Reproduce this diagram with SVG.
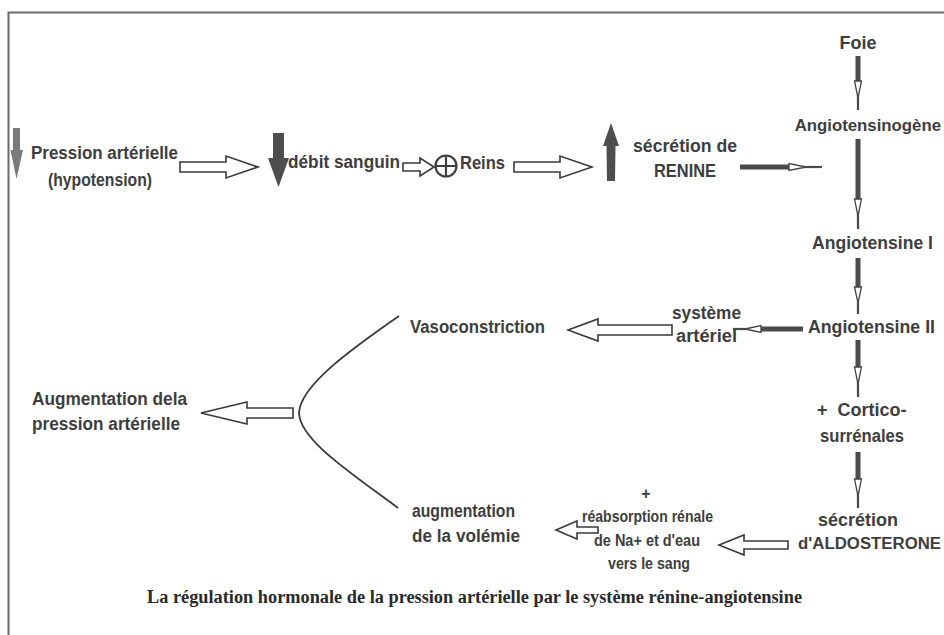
<svg xmlns="http://www.w3.org/2000/svg" width="944" height="635" viewBox="0 0 944 635">
  <style>
    .t { font-family: "Liberation Sans", Arial, sans-serif; font-weight: bold; font-size: 18px; fill: #3e3e3e; }
    .tn { font-family: "Liberation Sans", Arial, sans-serif; font-weight: bold; font-size: 16.8px; fill: #3e3e3e; }
    .ts { font-family: "Liberation Sans", Arial, sans-serif; font-weight: bold; font-size: 16px; fill: #3e3e3e; }
    .mid { text-anchor: middle; }
    .end { text-anchor: end; }
    .cap { font-family: "Liberation Serif", "Times New Roman", serif; font-weight: bold; font-size: 18px; fill: #2a2a2a; }
    .hollow { fill: #ffffff; stroke: #3a3a3a; stroke-width: 1.6; stroke-linejoin: miter; }
    .shaft { fill: #4a4a4a; }
    .tip { fill: #ffffff; stroke: #444444; stroke-width: 1.3; }
    .line { stroke: #4a4a4a; stroke-width: 2.2; fill: none; }
    .solid { fill: #4e4e4e; }
    .frame { stroke: #6a6a6a; stroke-width: 2; fill: none; }
  </style>

  <rect x="0" y="0" width="944" height="635" fill="#ffffff"/>
  <path class="frame" d="M 8.5,635 L 8.5,12.5 L 944,12.5"/>

  <!-- nodes -->
  <g id="pression">
    <path d="M 13,128 L 20,128 L 20,150 L 23,150 L 16.5,179 L 10.5,150 L 13,150 Z" fill="#7a7a7a"/>
    <text class="t" x="31" y="159" textLength="147" lengthAdjust="spacingAndGlyphs">Pression artérielle</text>
    <text class="t" x="48" y="186" textLength="104" lengthAdjust="spacingAndGlyphs">(hypotension)</text>
  </g>
  <g id="debit">
    <path class="solid" d="M 273,133 L 284,133 L 284,158 L 289,158 L 278.5,187 L 268,158 L 273,158 Z"/>
    <text class="t" x="288" y="168" textLength="112" lengthAdjust="spacingAndGlyphs">débit sanguin</text>
  </g>
  <g id="reins">
    <circle cx="446" cy="166" r="10.5" fill="none" stroke="#3e3e3e" stroke-width="2.2"/>
    <path d="M 435.5,166 L 456.5,166 M 446,155.5 L 446,176.5" stroke="#3e3e3e" stroke-width="2.2"/>
    <text class="t" x="460" y="169" textLength="45" lengthAdjust="spacingAndGlyphs">Reins</text>
  </g>
  <g id="renine">
    <path class="solid" d="M 611,123 L 619,146 L 615.5,146 L 615,181 L 607,181 L 606.5,146 L 603,146 Z"/>
    <text class="t" x="633" y="152" textLength="104" lengthAdjust="spacingAndGlyphs">sécrétion de</text>
    <text class="t" x="654" y="177" textLength="62" lengthAdjust="spacingAndGlyphs">RENINE</text>
  </g>
  <g id="foie">
    <text class="t mid" x="858" y="49">Foie</text>
  </g>
  <g id="angiotensinogene">
    <text class="tn end" x="941" y="131">Angiotensinogène</text>
  </g>
  <g id="angiotensine-1">
    <text class="t" x="812" y="249" textLength="121" lengthAdjust="spacingAndGlyphs">Angiotensine I</text>
  </g>
  <g id="angiotensine-2">
    <text class="t" x="808" y="333" textLength="127" lengthAdjust="spacingAndGlyphs">Angiotensine II</text>
  </g>
  <g id="systeme-arteriel">
    <text class="t" x="672" y="319" textLength="69" lengthAdjust="spacingAndGlyphs">système</text>
    <text class="t" x="676" y="342" textLength="61" lengthAdjust="spacingAndGlyphs">artériel</text>
  </g>
  <g id="vasoconstriction">
    <text class="t" x="410" y="333" textLength="135" lengthAdjust="spacingAndGlyphs">Vasoconstriction</text>
  </g>
  <g id="augmentation-pression">
    <text class="t" x="32" y="405" textLength="155" lengthAdjust="spacingAndGlyphs">Augmentation dela</text>
    <text class="t" x="32" y="430" textLength="148" lengthAdjust="spacingAndGlyphs">pression artérielle</text>
  </g>
  <g id="corticosurrenales">
    <text class="t" x="817" y="416">+ <tspan dx="5">Cortico-</tspan></text>
    <text class="t" x="820" y="442" textLength="84" lengthAdjust="spacingAndGlyphs">surrénales</text>
  </g>
  <g id="aldosterone">
    <text class="t mid" x="858" y="526">sécrétion</text>
    <text class="tn end" x="941" y="549">d'ALDOSTERONE</text>
  </g>
  <g id="reabsorption">
    <text class="ts mid" x="646" y="499">+</text>
    <text class="ts" x="582" y="522" textLength="131" lengthAdjust="spacingAndGlyphs">réabsorption rénale</text>
    <text class="ts" x="594" y="546" textLength="106" lengthAdjust="spacingAndGlyphs">de Na+ et d'eau</text>
    <text class="ts" x="608" y="569" textLength="82" lengthAdjust="spacingAndGlyphs">vers le sang</text>
  </g>
  <g id="volemie">
    <text class="t" x="412" y="517" textLength="103" lengthAdjust="spacingAndGlyphs">augmentation</text>
    <text class="t" x="412" y="542" textLength="108" lengthAdjust="spacingAndGlyphs">de la volémie</text>
  </g>

  <!-- connectors -->
  <g id="connectors">
    <!-- open block arrows -->
    <path class="hollow" d="M 180,162 L 226,162 L 226,156 L 258,167 L 226,178 L 226,172 L 180,172 Z"/>
    <path class="hollow" d="M 403,163 L 420,163 L 420,158 L 434,167 L 420,176 L 420,171 L 403,171 Z"/>
    <path class="hollow" d="M 514,162 L 560,162 L 560,156 L 592,167 L 560,178 L 560,172 L 514,172 Z"/>
    <path class="hollow" d="M 672,325 L 598,325 L 598,319 L 568,330 L 598,341 L 598,335 L 672,335 Z"/>
    <path class="hollow" d="M 293,408 L 247,408 L 247,402 L 201,413 L 247,424 L 247,418 L 293,418 Z"/>
    <path class="hollow" d="M 788,541 L 744,541 L 744,535 L 719,545 L 744,555 L 744,549 L 788,549 Z"/>
    <path class="hollow" d="M 598,527 L 577,527 L 577,521 L 556,530 L 577,539 L 577,533 L 598,533 Z"/>

    <!-- hormone cascade: solid shaft, small open head, thin lead -->
    <g id="foie-to-angiotensinogene">
      <rect class="shaft" x="855.5" y="56" width="5" height="26"/>
      <path class="tip" d="M 854.5,81 L 861.5,81 L 858,98 Z"/>
      <line class="line" x1="858" y1="96" x2="858" y2="110"/>
    </g>
    <g id="angiotensinogene-to-angiotensine-1">
      <rect class="shaft" x="855.5" y="139" width="5" height="61"/>
      <path class="tip" d="M 854.5,199 L 861.5,199 L 858,216 Z"/>
      <line class="line" x1="858" y1="214" x2="858" y2="229"/>
    </g>
    <g id="renine-to-cascade">
      <rect class="shaft" x="740" y="164.5" width="50" height="5"/>
      <path class="tip" d="M 789,163.5 L 789,170.5 L 806,167 Z"/>
      <line class="line" x1="804" y1="167" x2="822" y2="167"/>
    </g>
    <g id="angiotensine-1-to-2">
      <rect class="shaft" x="855.5" y="258" width="5" height="30"/>
      <path class="tip" d="M 854.5,287 L 861.5,287 L 858,303 Z"/>
      <line class="line" x1="858" y1="301" x2="858" y2="314"/>
    </g>
    <g id="angiotensine-2-to-systeme">
      <rect class="shaft" x="760" y="326.5" width="43" height="5"/>
      <path class="tip" d="M 761,325.5 L 761,332.5 L 745,329 Z"/>
      <line class="line" x1="747" y1="329" x2="733" y2="329"/>
    </g>
    <g id="angiotensine-2-to-cortico">
      <rect class="shaft" x="855.5" y="340" width="5" height="28"/>
      <path class="tip" d="M 854.5,367 L 861.5,367 L 858,384 Z"/>
      <line class="line" x1="858" y1="382" x2="858" y2="397"/>
    </g>
    <g id="cortico-to-aldosterone">
      <rect class="shaft" x="855.5" y="452" width="5" height="28"/>
      <path class="tip" d="M 854.5,479 L 861.5,479 L 858,496 Z"/>
      <line class="line" x1="858" y1="494" x2="858" y2="508"/>
    </g>

    <!-- branch joining vasoconstriction and volemia -->
    <path d="M 399,316 C 350,350 300,386 299,413 C 300,440 350,472 398,508" fill="none" stroke="#3a3a3a" stroke-width="1.8"/>
  </g>

  <text class="cap" x="147" y="603" textLength="655" lengthAdjust="spacingAndGlyphs">La régulation hormonale de la pression artérielle par le système rénine-angiotensine</text>
</svg>
